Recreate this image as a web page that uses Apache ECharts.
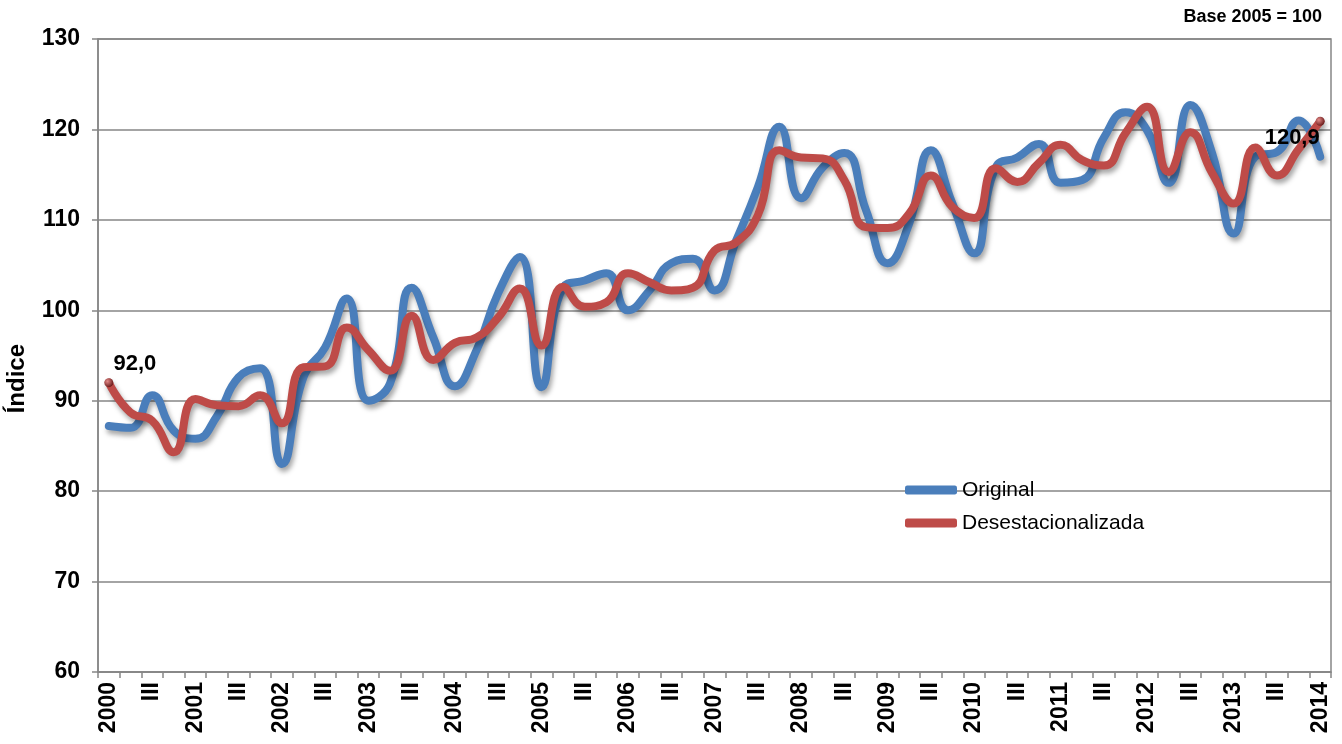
<!DOCTYPE html>
<html>
<head>
<meta charset="utf-8">
<script src="https://cdn.jsdelivr.net/npm/echarts@6/dist/echarts.min.js"></script>
<style>
html,body{margin:0;padding:0;background:#fff;}
#chart{width:1342px;height:744px;}
</style>
</head>
<body>
<div id="chart"></div>
<script>
// Quarter categories, 2000 I .. 2014 I
var categories = ['2000','II','III','IV','2001','II','III','IV','2002','II','III','IV','2003','II','III','IV',
  '2004','II','III','IV','2005','II','III','IV','2006','II','III','IV','2007','II','III','IV',
  '2008','II','III','IV','2009','II','III','IV','2010','II','III','IV','2011','II','III','IV',
  '2012','II','III','IV','2013','II','III','IV','2014'];
// Labels shown on the x axis (years and "III" only)
var tickLabels = ['2000','III','2001','III','2002','III','2003','III','2004','III','2005','III','2006','III',
  '2007','III','2008','III','2009','III','2010','III','2011','III','2012','III','2013','III','2014'];

var original = [87.2, 87.0, 90.6, 86.7, 85.8, 88.3, 92.6, 93.6, 83.0, 92.6,
  95.9, 101.3, 90.0, 91.9, 102.5, 97.0, 91.6, 95.6, 101.9, 105.9,
  91.5, 102.5, 103.3, 104.1, 100.0, 102.2, 105.2, 105.7, 102.2, 107.7,
  113.6, 120.3, 112.4, 115.8, 117.4, 111.1, 105.2, 109.6, 117.7, 111.8,
  106.3, 115.8, 116.9, 118.4, 114.1, 114.4, 119.1, 121.9, 119.9, 114.1,
  122.7, 117.4, 108.5, 117.0, 117.5, 121.0, 117.0];

var desestacionalizada = [92.0, 88.7, 87.8, 84.3, 90.2, 89.5, 89.4, 90.6, 87.5, 93.7,
  93.8, 98.1, 95.6, 93.3, 99.4, 94.5, 96.4, 97.0, 99.2, 102.4,
  96.1, 102.6, 100.4, 100.9, 104.1, 103.1, 102.2, 102.5, 106.6, 107.5,
  110.5, 117.7, 116.9, 116.8, 114.4, 109.2, 109.1, 110.7, 114.9, 111.4,
  110.2, 115.7, 114.2, 116.3, 118.3, 116.6, 116.0, 119.6, 122.5, 115.3,
  119.7, 115.2, 111.8, 118.0, 114.9, 117.8, 120.9];

var yTicks = [60, 70, 80, 90, 100, 110, 120, 130];

var FONT = "'Liberation Sans', Arial, sans-serif";
var BLUE = '#4A7EBB', RED = '#BE4B48', GRAY = '#868686';

function fmt(v){ return v.toFixed(1).replace('.', ','); }

var sphere = {type:'radial', x:0.35, y:0.35, r:0.75,
  colorStops:[{offset:0,color:'#e38a88'},{offset:1,color:'#5e0f0f'}]};

var redData = desestacionalizada.map(function(v, i){
  if (i === 0) {
    return {value:v, symbol:'circle', symbolSize:9, itemStyle:{color:sphere},
      label:{show:true, position:'top', offset:[26,2], formatter:function(p){return fmt(p.value);}}};
  }
  if (i === desestacionalizada.length - 1) {
    return {value:v, symbol:'circle', symbolSize:9, itemStyle:{color:sphere},
      label:{show:true, position:'bottom', offset:[-28,-4], formatter:function(p){return fmt(p.value);}}};
  }
  return v;
});

var lineShadow = {shadowColor:'rgba(0,0,0,0.35)', shadowBlur:5, shadowOffsetX:2, shadowOffsetY:4};

var chart = echarts.init(document.getElementById('chart'), null, {renderer:'canvas'});
chart.setOption({
  animation:false,
  backgroundColor:'#fff',
  textStyle:{fontFamily:FONT},
  grid:{left:98, right:11, top:39, bottom:72, show:true, borderColor:GRAY, borderWidth:1.5, backgroundColor:'transparent'},
  legend:{
    orient:'vertical', left:900, top:473, itemGap:9,
    icon:'roundRect', itemWidth:52, itemHeight:9,
    textStyle:{fontFamily:FONT, fontSize:21, color:'#000', lineHeight:24},
    data:['Original','Desestacionalizada']
  },
  xAxis:{
    type:'category', data:categories, boundaryGap:true,
    axisLine:{lineStyle:{color:GRAY, width:1.5}},
    axisTick:{show:true, interval:0, length:6, lineStyle:{color:GRAY, width:1.5}},
    axisLabel:{
      interval:0, rotate:90, margin:10,
      fontFamily:FONT, fontSize:23, fontWeight:'bold', color:'#000',
      formatter:function(val, idx){ return idx % 2 === 0 ? tickLabels[idx/2] : ''; }
    },
    splitLine:{show:false}
  },
  yAxis:{
    type:'value', min:yTicks[0], max:yTicks[yTicks.length-1], interval:10,
    axisLine:{show:true, lineStyle:{color:GRAY, width:1.5}},
    axisTick:{show:true, length:6, lineStyle:{color:GRAY, width:1.5}},
    axisLabel:{margin:18, fontFamily:FONT, fontSize:23, fontWeight:'bold', color:'#000'},
    splitLine:{lineStyle:{color:GRAY, width:1.5}}
  },
  graphic:[
    {type:'text', left:5, top:344, rotation:Math.PI/2,
     style:{text:'Índice', font:"bold 24px 'Liberation Sans', Arial, sans-serif", fill:'#000'}, z:10},
    {type:'text', right:20, top:8,
     style:{text:'Base 2005 = 100', font:"bold 18px 'Liberation Sans', Arial, sans-serif", fill:'#000'}}
  ],
  series:[
    {name:'Original', type:'line', data:original, smooth:0.5, showSymbol:false, symbol:'none',
     color:BLUE, lineStyle:Object.assign({color:BLUE, width:8, cap:'round', join:'round'}, lineShadow), z:2},
    {name:'Desestacionalizada', type:'line', data:redData, smooth:0.5, showSymbol:true, symbol:'none',
     color:RED, lineStyle:Object.assign({color:RED, width:8, cap:'round', join:'round'}, lineShadow),
     label:{fontFamily:FONT, fontSize:22, fontWeight:'bold', color:'#000'}, z:3}
  ]
});
</script>
</body>
</html>
